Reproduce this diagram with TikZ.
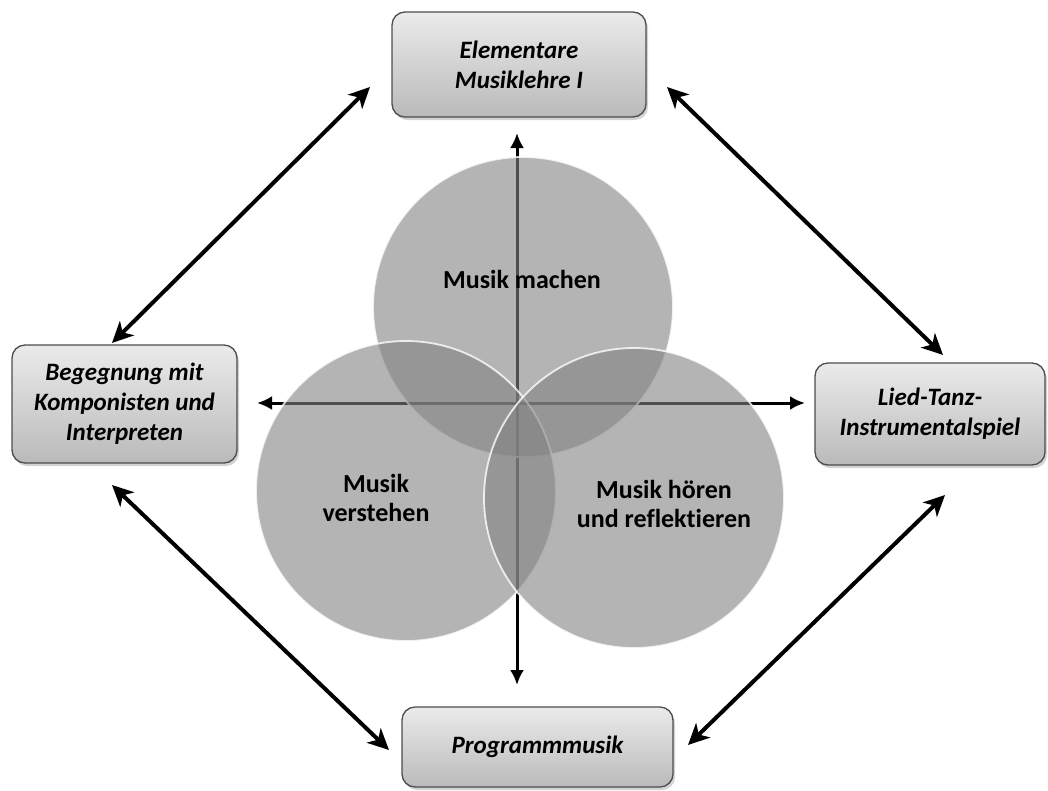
\documentclass[tikz,border=0pt]{standalone}
\usepackage{fontspec}
\setmainfont{Carlito}[Ligatures=NoCommon]
\usetikzlibrary{arrows.meta,shadows}
\begin{document}
\begin{tikzpicture}[x=1pt,y=-1pt,
  topicbox/.style={draw=black!70, line width=1.3pt, rounded corners=13pt,
    top color=black!8, bottom color=black!27, inner sep=0pt, align=center,
    font=\bfseries\itshape\fontsize{25}{30}\selectfont,
    drop shadow={opacity=0.35, shadow xshift=2pt, shadow yshift=-3pt}},
  ring/.style={circle, inner sep=0pt, minimum size=300pt, fill=black!49,
    fill opacity=0.6, draw=white, draw opacity=0.8, line width=1.8pt},
  ringtext/.style={align=center, font=\bfseries\fontsize{26}{29}\selectfont},
  link/.style={line width=4pt, {Stealth[length=21pt,width=20pt,inset=6pt]}-{Stealth[length=21pt,width=20pt,inset=6pt]}},
  axis/.style={line width=3pt, black, {Latex[length=15pt,width=14pt]}-{Latex[length=15pt,width=14pt]}}
]
\useasboundingbox (0,0) rectangle (1048,790);

% boxes
\node[topicbox, minimum width=254pt, minimum height=105pt] (top) at (519,64.5)
  {Elementare\\Musiklehre I};
\node[topicbox, minimum width=225pt, minimum height=118pt] (left) at (124.5,404)
  {Begegnung mit\\Komponisten und\\Interpreten};
\node[topicbox, minimum width=230pt, minimum height=102pt] (right) at (930,414)
  {Lied-Tanz-\\Instrumentalspiel};
\node[topicbox, minimum width=271pt, minimum height=80pt] (bottom) at (537.5,747)
  {Programmmusik};

% connector end points
\coordinate (tl1) at (370,87);
\coordinate (tl2) at (112,343);
\coordinate (tr1) at (667,87);
\coordinate (tr2) at (943,355);
\coordinate (bl1) at (112,485);
\coordinate (bl2) at (389,750);
\coordinate (br1) at (945,495);
\coordinate (br2) at (688,745);
\coordinate (vt) at (517,133);
\coordinate (vb) at (517,685);
\coordinate (hl) at (257,403);
\coordinate (hr) at (805,403);

\draw[link] (tl1) -- (tl2);
\draw[link] (tr1) -- (tr2);
\draw[link] (bl1) -- (bl2);
\draw[link] (br1) -- (br2);

\draw[axis] (vt) -- (vb);
\draw[axis] (hl) -- (hr);

% circles
\node[ring] (cmake) at (523,307) {};
\node[ring] (cunder) at (406,491) {};
\node[ring] (clisten) at (634,498) {};

\node[ringtext] (tmake) at (522,279) {Musik machen};
\node[ringtext] (tunder) at (376,498) {Musik\\verstehen};
\node[ringtext] (tlisten) at (664,504) {Musik hören\\und reflektieren};
\end{tikzpicture}
\end{document}
